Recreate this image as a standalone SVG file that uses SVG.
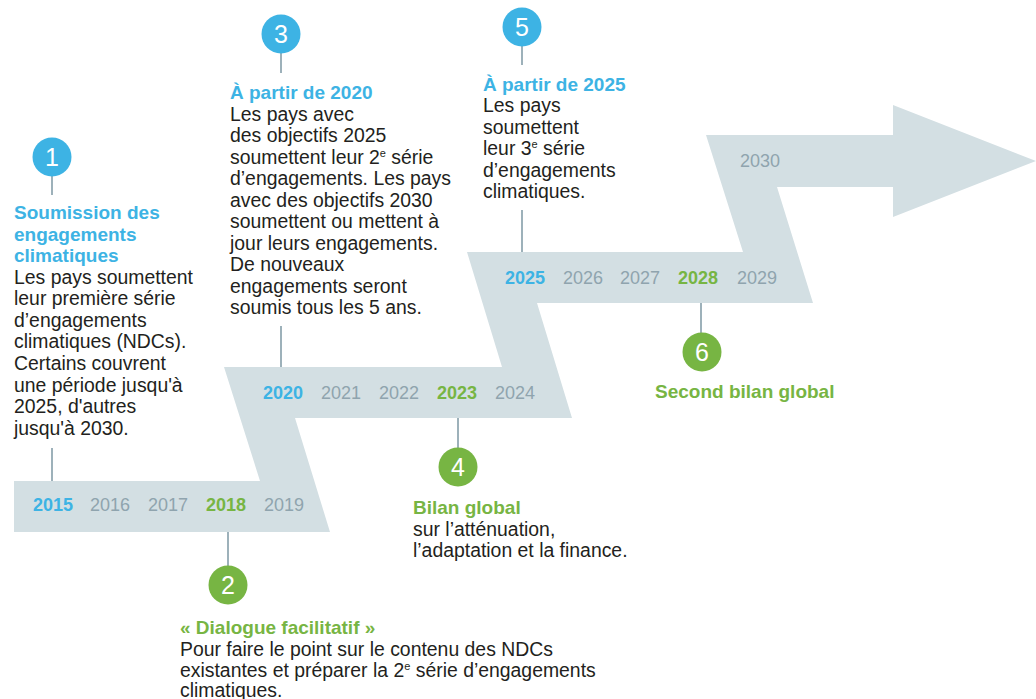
<svg xmlns="http://www.w3.org/2000/svg" width="1036" height="699" viewBox="0 0 1036 699">
<style>
text{font-family:"Liberation Sans",Arial,sans-serif}
.yr{font-size:18px;fill:#8fa4ae}
.yb{font-size:18px;font-weight:bold;fill:#3db3e4}
.yg{font-size:18px;font-weight:bold;fill:#77b543}
.num{font-size:25px;fill:#ffffff;text-anchor:middle}
.cb{fill:#3db3e4}
.cg{fill:#77b543}
.tb{font-size:19px;font-weight:bold;fill:#3db3e4}
.tg{font-size:19px;font-weight:bold;fill:#77b543}
.body{font-size:19.4px;fill:#231f20}
.conn{stroke:#9db1ba;stroke-width:2;fill:none}
</style>
<rect width="1036" height="699" fill="#ffffff"/>
<g id="timeline">
<polygon fill="#d3dfe3" points="14,481 260,481 224,367 502,367 467,252 743,252 706,135 893,135 893,105 1036,161 893,217 893,187 777,187 813,303 537,303 572,418 295,418 330,532 14,532"/>
<text class="yb" x="33" y="511">2015</text>
<text class="yr" x="90" y="511">2016</text>
<text class="yr" x="148" y="511">2017</text>
<text class="yg" x="206" y="511">2018</text>
<text class="yr" x="264" y="511">2019</text>
<text class="yb" x="263" y="399">2020</text>
<text class="yr" x="321" y="399">2021</text>
<text class="yr" x="379" y="399">2022</text>
<text class="yg" x="437" y="399">2023</text>
<text class="yr" x="495" y="399">2024</text>
<text class="yb" x="505" y="284">2025</text>
<text class="yr" x="563" y="284">2026</text>
<text class="yr" x="620" y="284">2027</text>
<text class="yg" x="678" y="284">2028</text>
<text class="yr" x="737" y="284">2029</text>
<text class="yr" x="740" y="167">2030</text>
</g>
<g id="connectors">
<line class="conn" x1="52" y1="176" x2="52" y2="195"/>
<line class="conn" x1="52" y1="448" x2="52" y2="481"/>
<line class="conn" x1="281" y1="53" x2="281" y2="73"/>
<line class="conn" x1="281" y1="326" x2="281" y2="367"/>
<line class="conn" x1="522" y1="46" x2="522" y2="65"/>
<line class="conn" x1="522" y1="210" x2="522" y2="252"/>
<line class="conn" x1="228" y1="532" x2="228" y2="566"/>
<line class="conn" x1="458" y1="418" x2="458" y2="449"/>
<line class="conn" x1="701" y1="303" x2="701" y2="333"/>
</g>
<g id="node1">
<circle class="cb" cx="52" cy="157" r="19.5"/>
<text class="num" x="52" y="166">1</text>
<text class="tb" x="14" y="219">Soumission des</text>
<text class="tb" x="14" y="241">engagements</text>
<text class="tb" x="14" y="262">climatiques</text>
<text class="body" x="14" y="284">Les pays soumettent</text>
<text class="body" x="14" y="305">leur première série</text>
<text class="body" x="14" y="327">d’engagements</text>
<text class="body" x="14" y="348">climatiques (NDCs).</text>
<text class="body" x="14" y="370">Certains couvrent</text>
<text class="body" x="14" y="392">une période jusqu'à</text>
<text class="body" x="14" y="413">2025, d'autres</text>
<text class="body" x="14" y="435">jusqu'à 2030.</text>
</g>
<g id="node3">
<circle class="cb" cx="281" cy="34" r="19.5"/>
<text class="num" x="281" y="43">3</text>
<text class="tb" x="230" y="99">À partir de 2020</text>
<text class="body" x="230" y="121">Les pays avec</text>
<text class="body" x="230" y="142">des objectifs 2025</text>
<text class="body" x="230" y="164">soumettent leur 2<tspan font-size="11" dy="-7">e</tspan><tspan dy="7"> série</tspan></text>
<text class="body" x="230" y="185">d’engagements. Les pays</text>
<text class="body" x="230" y="207">avec des objectifs 2030</text>
<text class="body" x="230" y="228">soumettent ou mettent à</text>
<text class="body" x="230" y="250">jour leurs engagements.</text>
<text class="body" x="230" y="271">De nouveaux</text>
<text class="body" x="230" y="293">engagements seront</text>
<text class="body" x="230" y="314">soumis tous les 5 ans.</text>
</g>
<g id="node5">
<circle class="cb" cx="522" cy="27" r="19.5"/>
<text class="num" x="522" y="36">5</text>
<text class="tb" x="483" y="91">À partir de 2025</text>
<text class="body" x="483" y="112">Les pays</text>
<text class="body" x="483" y="134">soumettent</text>
<text class="body" x="483" y="155">leur 3<tspan font-size="11" dy="-7">e</tspan><tspan dy="7"> série</tspan></text>
<text class="body" x="483" y="177">d’engagements</text>
<text class="body" x="483" y="198">climatiques.</text>
</g>
<g id="node2">
<circle class="cg" cx="228" cy="585" r="19.5"/>
<text class="num" x="228" y="594">2</text>
<text class="tg" x="180" y="634">« Dialogue facilitatif »</text>
<text class="body" x="180" y="656">Pour faire le point sur le contenu des NDCs</text>
<text class="body" x="180" y="677">existantes et préparer la 2<tspan font-size="11" dy="-7">e</tspan><tspan dy="7"> série d’engagements</tspan></text>
<text class="body" x="180" y="697">climatiques.</text>
</g>
<g id="node4">
<circle class="cg" cx="458" cy="467" r="19.5"/>
<text class="num" x="458" y="476">4</text>
<text class="tg" x="413" y="514">Bilan global</text>
<text class="body" x="413" y="536">sur l’atténuation,</text>
<text class="body" x="413" y="557">l’adaptation et la finance.</text>
</g>
<g id="node6">
<circle class="cg" cx="702" cy="352" r="19.5"/>
<text class="num" x="702" y="361">6</text>
<text class="tg" x="655" y="398">Second bilan global</text>
</g>
</svg>
